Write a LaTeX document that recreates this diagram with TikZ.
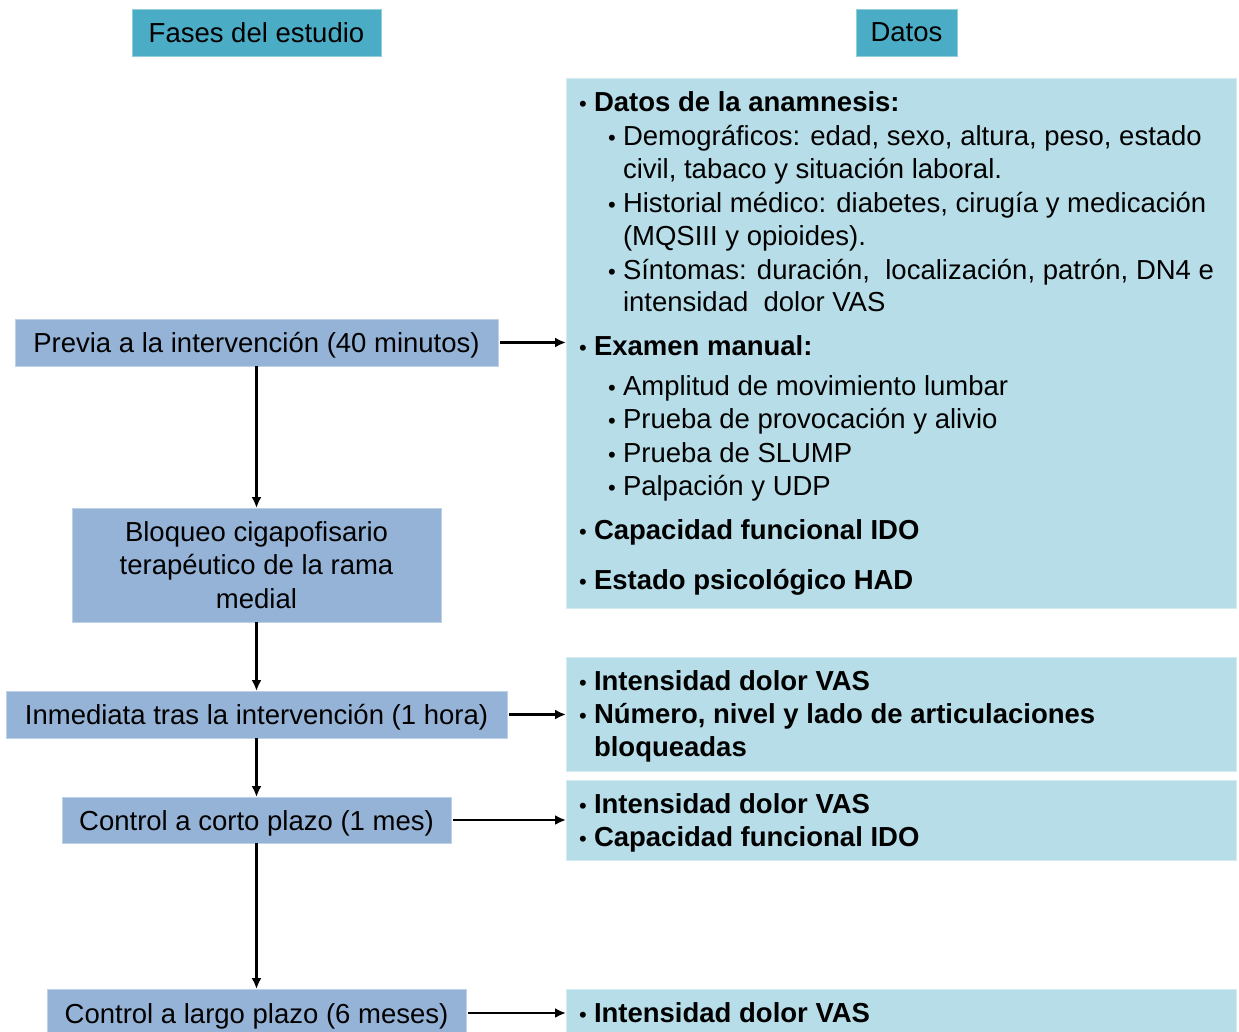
\documentclass[tikz,border=0pt]{standalone}
\usepackage{fontspec}
\setmainfont{Liberation Sans}
\usetikzlibrary{arrows.meta}
\definecolor{hdr}{RGB}{75,172,198}
\definecolor{phase}{RGB}{149,179,215}
\definecolor{datab}{RGB}{183,221,232}
\begin{document}
\begin{tikzpicture}[x=1pt,y=-1pt,
  every node/.style={font=\fontsize{27.5}{33.5}\selectfont, inner sep=0pt, outer sep=0pt},
  hdrbox/.style={fill=hdr, draw=hdr!60!white, line width=0.8pt},
  phasebox/.style={fill=phase, draw=phase!60!white, line width=0.8pt, align=center},
  oneline/.style={text height=25.5pt, text depth=5.5pt},
  databox/.style={fill=datab, draw=datab!60!white, line width=0.8pt, minimum width=670pt},
  txt/.style={anchor=base west},
  btxt/.style={anchor=base west, font=\fontsize{27.5}{33.5}\selectfont\bfseries},
  bul/.style={anchor=base, font=\fontsize{22}{22}\selectfont},
  conn/.style={line width=2.5pt, -{Latex[length=11pt,width=10pt]}}
]
\useasboundingbox (0,0) rectangle (1239,1031);
\clip (0,0) rectangle (1239,1031);
\fill[white] (0,0) rectangle (1239,1031);

% headers
\node[hdrbox, minimum width=249pt, minimum height=47pt] (h1) at (256.5,32.5) {Fases del estudio};
\node[hdrbox, minimum width=101pt, minimum height=47pt] (h2) at (906.5,32.5) {Datos};

% phase boxes
\node[phasebox, oneline, minimum width=483pt, minimum height=47pt] (p1) at (256.5,342.5) {Previa a la intervención (40 minutos)};
\node[phasebox, minimum width=369pt, minimum height=114pt] (p2) at (256.5,565) {Bloqueo cigapofisario\\terapéutico de la rama\\medial};
\node[phasebox, oneline, minimum width=501pt, minimum height=47pt] (p3) at (256.5,714.5) {Inmediata tras la intervención (1 hora)};
\node[phasebox, oneline, minimum width=389pt, minimum height=46pt] (p4) at (256.5,820) {Control a corto plazo (1 mes)};
\node[phasebox, oneline, minimum width=419pt, minimum height=48pt] (p5) at (256.5,1013) {Control a largo plazo (6 meses)};

% data boxes
\node[databox, minimum height=530pt] (d1) at (901,343) {};
\node[databox, minimum height=114pt] (d2) at (901,714) {};
\node[databox, minimum height=80pt] (d3) at (901,820) {};
\node[databox, minimum height=48pt] (d4) at (901,1013) {};

% data box 1 text
\node[bul] (b1) at (583,111) {•};
\node[btxt] (t1) at (594,111) {Datos de la anamnesis:};
\node[bul] (b2) at (612,145) {•};
\node[txt] (t2) at (623,145) {Demográficos: edad, sexo, altura, peso, estado};
\node[txt] (t3) at (623,178) {civil, tabaco y situación laboral.};
\node[bul] (b4) at (612,212) {•};
\node[txt] (t4) at (623,212) {Historial médico: diabetes, cirugía y medicación};
\node[txt] (t5) at (623,245) {(MQSIII y opioides).};
\node[bul] (b6) at (612,279) {•};
\node[txt] (t6) at (623,279) {Síntomas: duración,\ \ localización, patrón, DN4 e};
\node[txt] (t7) at (623,311) {intensidad\ \ dolor VAS};
\node[bul] (b8) at (583,355) {•};
\node[btxt] (t8) at (594,355) {Examen manual:};
\node[bul] (b9) at (612,395) {•};
\node[txt] (t9) at (623,395) {Amplitud de movimiento lumbar};
\node[bul] (b10) at (612,428) {•};
\node[txt] (t10) at (623,428) {Prueba de provocación y alivio};
\node[bul] (b11) at (612,462) {•};
\node[txt] (t11) at (623,462) {Prueba de SLUMP};
\node[bul] (b12) at (612,495) {•};
\node[txt] (t12) at (623,495) {Palpación y UDP};
\node[bul] (b13) at (583,539) {•};
\node[btxt] (t13) at (594,539) {Capacidad funcional IDO};
\node[bul] (b14) at (583,589) {•};
\node[btxt] (t14) at (594,589) {Estado psicológico HAD};

% data box 2 text
\node[bul] (c1) at (583,690) {•};
\node[btxt] (u1) at (594,690) {Intensidad dolor VAS};
\node[bul] (c2) at (583,723) {•};
\node[btxt] (u2) at (594,723) {Número, nivel y lado de articulaciones};
\node[btxt] (u3) at (594,756) {bloqueadas};

% data box 3 text
\node[bul] (e1) at (583,813) {•};
\node[btxt] (v1) at (594,813) {Intensidad dolor VAS};
\node[bul] (e2) at (583,846) {•};
\node[btxt] (v2) at (594,846) {Capacidad funcional IDO};

% data box 4 text
\node[bul] (f1) at (583,1022) {•};
\node[btxt] (w1) at (594,1022) {Intensidad dolor VAS};

% connectors
\draw[conn] (p1.south) -- (p2.north);
\draw[conn] (p2.south) -- (p3.north);
\draw[conn] (p3.south) -- (p4.north);
\draw[conn] (p4.south) -- (p5.north);
\draw[conn, shorten <=2pt] (p1.east) -- (p1.east -| d1.west);
\draw[conn, shorten <=2pt] (p3.east) -- (p3.east -| d2.west);
\draw[conn, shorten <=2pt] (p4.east) -- (p4.east -| d3.west);
\draw[conn, shorten <=2pt] (p5.east) -- (p5.east -| d4.west);
\end{tikzpicture}
\end{document}
